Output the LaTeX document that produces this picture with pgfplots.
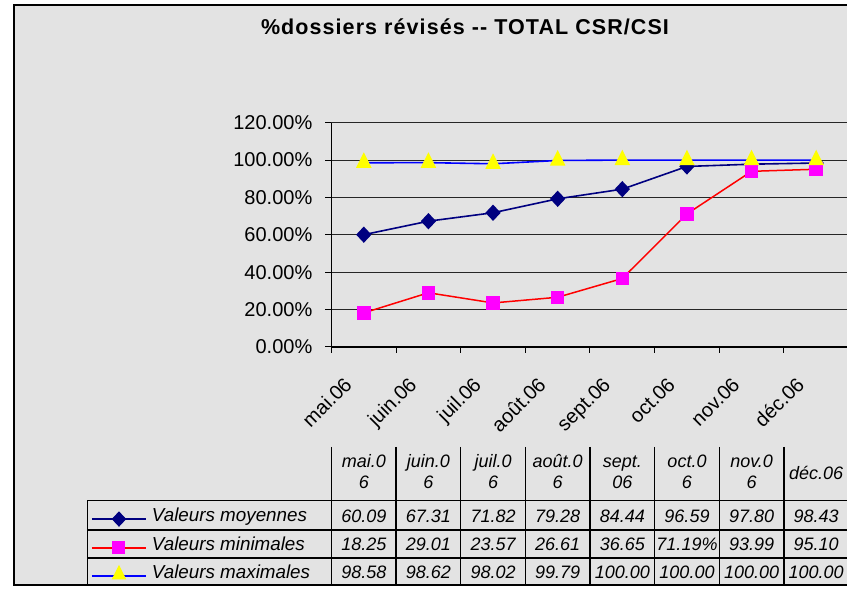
\documentclass[border=0pt]{standalone}
\usepackage{fontspec}
\setmainfont{Liberation Sans}
\usepackage{pgfplots}
\pgfplotsset{compat=1.18}
\usetikzlibrary{calc}
\definecolor{bg}{RGB}{227,227,227}
\definecolor{navyc}{RGB}{0,0,128}
\definecolor{redc}{RGB}{255,0,0}
\definecolor{magc}{RGB}{255,0,255}
\definecolor{yelc}{RGB}{255,255,0}
\definecolor{bluec}{RGB}{0,0,255}
\newcommand{\tfont}{\itshape\fontsize{18.8}{22}\selectfont}
\newcommand{\vfont}{\itshape\fontsize{18}{22}\selectfont}
\newcommand{\kfont}{\fontsize{20}{24}\selectfont}
\begin{document}
\begin{tikzpicture}[x=1pt,y=1pt]
\useasboundingbox (0,0) rectangle (847,589);
\fill[white] (0,0) rectangle (847,589);
\draw[black, line width=2pt, fill=bg] (13.5,583.5) rectangle (880,3.5);
\node[font=\fontsize{21.5}{25}\selectfont\bfseries\addfontfeatures{LetterSpace=5}, anchor=base] at (465,554) {\%dossiers révisés -{}- TOTAL CSR/CSI};

\begin{axis}[
  at={(331.5pt,242pt)}, anchor=south west,
  scale only axis, width=517pt, height=224.3pt,
  xmin=-0.5, xmax=7.5, ymin=0, ymax=120,
  xtick={-0.5,0.5,...,7.5}, xticklabels={},
  ytick={0,20,...,120},
  yticklabels={0.00\%,20.00\%,40.00\%,60.00\%,80.00\%,100.00\%,120.00\%},
  ymajorgrids, major grid style={black!85, line width=0.8pt},
  axis x line*=bottom, axis y line*=left,
  axis line style={black, line width=1.2pt, -},
  tick align=outside, major tick length=6pt,
  tick style={black, line width=1pt},
  yticklabel style={font=\kfont, inner sep=0pt, xshift=-13pt},
  clip=false,
  legend style={at={(axis description cs:-0.4652,-0.6853)}, anchor=north west,
    draw=none, fill=none, inner sep=0pt, outer sep=0pt, row sep=0pt,
    font=\tfont, nodes={inner sep=0pt, text height=21pt, text depth=7.3pt},
    /tikz/every odd column/.append style={column sep=5pt}},
  legend cell align=left,
]
\addplot[navyc, line width=1.6pt, mark=diamond*, mark size=7pt,
  mark options={fill=navyc, draw=navyc, xscale=1.25}, forget plot]
  coordinates {(0,60.09) (1,67.31) (2,71.82) (3,79.28) (4,84.44) (5,96.59) (6,97.80) (7,98.43)};
\addplot[redc, line width=1.5pt, mark=square*, mark size=6pt,
  mark options={fill=magc, draw=magc}, forget plot]
  coordinates {(0,18.25) (1,29.01) (2,23.57) (3,26.61) (4,36.65) (5,71.19) (6,93.99) (7,95.10)};
\addplot[bluec, line width=1.6pt, mark=triangle*, mark size=7.5pt,
  mark options={fill=yelc, draw=yelc, yscale=1.15}, forget plot]
  coordinates {(0,98.58) (1,98.62) (2,98.02) (3,99.79) (4,100) (5,100) (6,100) (7,100)};

\addlegendimage{legend image code/.code={
  \draw[navyc, line width=2pt] (0pt,-4.2pt) -- (54pt,-4.2pt);
  \draw[navyc, fill=navyc, line width=1pt, mark size=7pt] plot[mark=diamond*, mark options={xscale=1.25}] coordinates {(27pt,-4.2pt)};}}
\addlegendentry{Valeurs moyennes}
\addlegendimage{legend image code/.code={
  \draw[redc, line width=2pt] (0pt,-4.7pt) -- (54pt,-4.7pt);
  \draw[magc, fill=magc, line width=1pt, mark size=6pt] plot[mark=square*] coordinates {(27pt,-4.7pt)};}}
\addlegendentry{Valeurs minimales}
\addlegendimage{legend image code/.code={
  \draw[bluec, line width=2pt] (0pt,-4.7pt) -- (54pt,-4.7pt);
  \draw[yelc, fill=yelc, line width=1pt, mark size=7.5pt] plot[mark=triangle*, mark options={yscale=1.15}] coordinates {(27pt,-3.2pt)};}}
\addlegendentry{Valeurs maximales}

\foreach \i/\lab in {0/mai.06,1/juin.06,2/juil.06,3/août.06,4/sept.06,5/oct.06,6/nov.06,7/déc.06}{
  \edef\tmp{\noexpand\node[font=\noexpand\kfont, rotate=45, anchor=base east, inner sep=0pt] at ($(axis cs:\i,0)+(-10.6pt,-39pt)$) {\lab};}
  \tmp
}
\end{axis}

% data table
\foreach \x in {331.5,396.1,460.8,525.4,590.0,654.6,719.3,783.9,848.5}{
  \draw[black, line width=1.3pt] (\x,142) -- (\x,3.3);
}
\foreach \y in {88.3,59,31,3.3}{
  \draw[black, line width=1.3pt] (87.3,\y) -- (880,\y);
}
\draw[black, line width=1.3pt] (87.3,88.3) -- (87.3,3.3);

\begin{scope}[every node/.style={font=\vfont, anchor=base, inner sep=0pt}]
\node at (363.8,121) {mai.0};  \node at (363.8,100) {6};
\node at (428.4,121) {juin.0}; \node at (428.4,100) {6};
\node at (493.1,121) {juil.0}; \node at (493.1,100) {6};
\node at (557.7,121) {août.0}; \node at (557.7,100) {6};
\node at (622.3,121) {sept.};  \node at (622.3,100) {06};
\node at (687.0,121) {oct.0};  \node at (687.0,100) {6};
\node at (751.6,121) {nov.0};  \node at (751.6,100) {6};
\node at (816.2,109) {déc.06};
% row 1
\node at (363.8,66) {60.09}; \node at (428.4,66) {67.31}; \node at (493.1,66) {71.82}; \node at (557.7,66) {79.28};
\node at (622.3,66) {84.44}; \node at (687.0,66) {96.59}; \node at (751.6,66) {97.80}; \node at (816.2,66) {98.43};
% row 2
\node at (363.8,38) {18.25}; \node at (428.4,38) {29.01}; \node at (493.1,38) {23.57}; \node at (557.7,38) {26.61};
\node at (622.3,38) {36.65}; \node at (687.0,38) {71.19\%}; \node at (751.6,38) {93.99}; \node at (816.2,38) {95.10};
% row 3
\node at (363.8,10) {98.58}; \node at (428.4,10) {98.62}; \node at (493.1,10) {98.02}; \node at (557.7,10) {99.79};
\node at (622.3,10) {100.00}; \node at (687.0,10) {100.00}; \node at (751.6,10) {100.00}; \node at (816.2,10) {100.00};
\end{scope}
\end{tikzpicture}
\end{document}
